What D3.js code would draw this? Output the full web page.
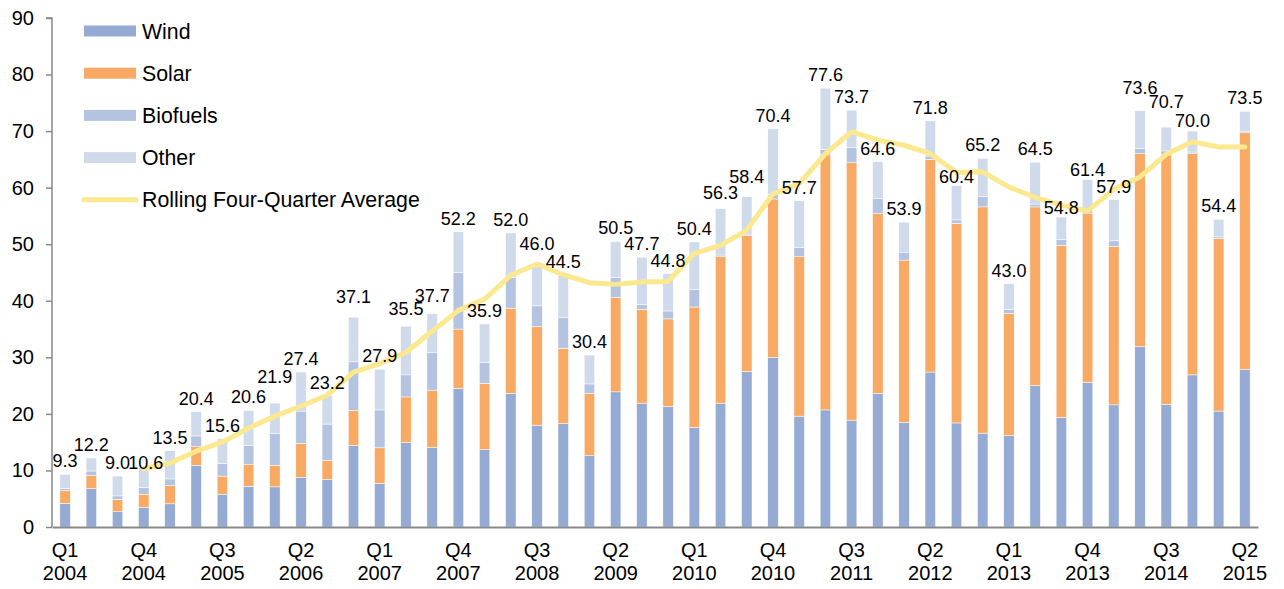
<!DOCTYPE html>
<html>
<head>
<meta charset="utf-8">
<script src="https://cdn.jsdelivr.net/npm/d3@7"></script>
<style>
  body { margin: 0; background: #fff; }
  svg { display: block; font-family: "Liberation Sans", Arial, sans-serif; }
</style>
</head>
<body>
<svg id="chart" width="1284" height="589"></svg>
<script>
// quarters Q1 2004 .. Q2 2015
const quarters = ['Q1 2004','Q2 2004','Q3 2004','Q4 2004','Q1 2005','Q2 2005','Q3 2005','Q4 2005',
  'Q1 2006','Q2 2006','Q3 2006','Q4 2006','Q1 2007','Q2 2007','Q3 2007','Q4 2007',
  'Q1 2008','Q2 2008','Q3 2008','Q4 2008','Q1 2009','Q2 2009','Q3 2009','Q4 2009',
  'Q1 2010','Q2 2010','Q3 2010','Q4 2010','Q1 2011','Q2 2011','Q3 2011','Q4 2011',
  'Q1 2012','Q2 2012','Q3 2012','Q4 2012','Q1 2013','Q2 2013','Q3 2013','Q4 2013',
  'Q1 2014','Q2 2014','Q3 2014','Q4 2014','Q1 2015','Q2 2015'];

const wind = [4.2, 6.8, 2.7, 3.5, 4.1, 10.9, 5.8, 7.2, 7.1, 8.8, 8.4, 14.4, 7.7, 14.9, 14.1, 24.5,
  13.7, 23.6, 18.0, 18.3, 12.6, 23.9, 21.9, 21.3, 17.6, 21.9, 27.5, 30.0, 19.6, 20.7, 18.9, 23.6,
  18.5, 27.4, 18.4, 16.6, 16.2, 25.0, 19.4, 25.6, 21.6, 31.9, 21.7, 26.9, 20.5, 27.9];
const solar = [2.2, 2.3, 2.2, 2.3, 3.2, 3.3, 3.2, 3.9, 3.8, 6.0, 3.4, 6.2, 6.3, 8.1, 10.1, 10.5,
  11.7, 15.1, 17.4, 13.3, 11.0, 16.7, 16.6, 15.5, 21.3, 25.9, 24.0, 28.0, 28.2, 45.1, 45.5, 31.8,
  28.7, 37.6, 35.3, 40.0, 21.6, 31.6, 30.4, 29.9, 28.0, 34.1, 44.1, 39.1, 30.5, 41.8];
const biofuels = [0.4, 0.8, 0.6, 1.2, 1.2, 1.9, 2.2, 3.3, 5.6, 5.7, 6.4, 8.6, 6.7, 3.9, 6.7, 10.0,
  3.7, 5.4, 3.7, 5.4, 1.7, 3.5, 0.8, 1.4, 3.1, 0.3, 0.3, 0.8, 1.6, 1.0, 2.7, 2.7,
  1.4, 0.6, 0.6, 1.8, 0.7, 0.5, 1.0, 0.4, 1.0, 0.9, 0.7, 0.3, 0.3, 0.3];
const other = [2.5, 2.3, 3.5, 3.6, 5.0, 4.3, 4.4, 6.2, 5.4, 6.9, 5.0, 7.9, 7.2, 8.6, 6.8, 7.2,
  6.8, 7.9, 6.9, 7.5, 5.1, 6.4, 8.4, 6.6, 8.4, 8.2, 6.6, 11.6, 8.3, 10.8, 6.6, 6.5,
  5.3, 6.2, 6.1, 6.8, 4.5, 7.4, 4.0, 5.5, 7.3, 6.7, 4.2, 3.7, 3.1, 3.5];
const totals = [9.3, 12.2, 9.0, 10.6, 13.5, 20.4, 15.6, 20.6, 21.9, 27.4, 23.2, 37.1, 27.9, 35.5, 37.7, 52.2,
  35.9, 52.0, 46.0, 44.5, 30.4, 50.5, 47.7, 44.8, 50.4, 56.3, 58.4, 70.4, 57.7, 77.6, 73.7, 64.6,
  53.9, 71.8, 60.4, 65.2, 43.0, 64.5, 54.8, 61.4, 57.9, 73.6, 70.7, 70.0, 54.4, 73.5];
const rollingAvg = [null, null, null, 10.3, 11.3, 13.4, 15.0, 17.5, 19.6, 21.4, 23.3, 27.4, 28.9, 30.9, 34.6, 38.3,
  40.3, 44.5, 46.5, 44.6, 43.2, 42.9, 43.3, 43.4, 48.4, 49.8, 52.5, 58.9, 60.7, 66.0, 69.9, 68.4,
  67.5, 66.0, 62.7, 62.8, 60.1, 58.3, 56.9, 55.9, 59.7, 61.9, 65.9, 68.1, 67.2, 67.2];
const yTicks = [0, 10, 20, 30, 40, 50, 60, 70, 80, 90];

const seriesNames = ['Wind', 'Solar', 'Biofuels', 'Other'];
const colors = { Wind: '#95abd3', Solar: '#f8a964', Biofuels: '#b3c3e0', Other: '#cfdaeb' };
const lineColor = '#fbe88f';

const svg = d3.select('#chart');
const margin = { left: 52, right: 26, top: 18, bottom: 62 };
const width = 1284, height = 589;

const rows = quarters.map((q, i) => ({ q, Wind: wind[i], Solar: solar[i], Biofuels: biofuels[i], Other: other[i] }));

const x = d3.scaleBand()
  .domain(quarters)
  .range([margin.left, width - margin.right])
  .paddingInner(0.6)
  .paddingOuter(0.3);

const y = d3.scaleLinear()
  .domain([0, 90])
  .range([height - margin.bottom, margin.top]);

const stack = d3.stack().keys(seriesNames)(rows);

svg.append('g')
  .selectAll('g')
  .data(stack)
  .enter()
  .append('g')
  .attr('fill', (d) => colors[d.key])
  .selectAll('rect')
  .data((d) => d)
  .enter()
  .append('rect')
  .attr('x', (d) => x(d.data.q))
  .attr('y', (d) => y(d[1]))
  .attr('width', x.bandwidth())
  .attr('height', (d) => y(d[0]) - y(d[1]))
  .attr('stroke', '#ffffff')
  .attr('stroke-width', 0.5);

// y axis
const yAxis = svg.append('g')
  .attr('transform', `translate(${margin.left},0)`)
  .call(d3.axisLeft(y).tickValues(yTicks).tickSize(6).tickPadding(12).tickFormat(d3.format('d')));
yAxis.selectAll('line').attr('stroke', '#898989').attr('stroke-width', 1.5);
yAxis.select('.domain').attr('stroke', '#898989').attr('stroke-width', 1.5).attr('d', `M-6,${y(90)}H0V${y(0)}`);
yAxis.selectAll('text').attr('font-size', 20).attr('fill', '#000').attr('font-family', '"Liberation Sans", Arial, sans-serif');

// x axis
const xAxis = svg.append('g')
  .attr('transform', `translate(0,${y(0)})`)
  .call(d3.axisBottom(x).tickSize(0).tickFormat(''));
xAxis.select('.domain').attr('stroke', '#898989').attr('stroke-width', 2);

const labelled = quarters.filter((q, i) => i % 3 === 0);
const xl = svg.append('g').selectAll('text')
  .data(labelled)
  .enter()
  .append('text')
  .attr('text-anchor', 'middle')
  .attr('font-size', 20)
  .attr('fill', '#000');
xl.append('tspan')
  .attr('x', (d) => x(d) + x.bandwidth() / 2)
  .attr('y', 557)
  .text((d) => d.split(' ')[0]);
xl.append('tspan')
  .attr('x', (d) => x(d) + x.bandwidth() / 2)
  .attr('y', 580)
  .text((d) => d.split(' ')[1]);

// rolling average line
const line = d3.line()
  .defined((d) => d != null)
  .x((d, i) => x(quarters[i]) + x.bandwidth() / 2)
  .y((d) => y(d));

svg.append('path')
  .datum(rollingAvg)
  .attr('d', line)
  .attr('fill', 'none')
  .attr('stroke', lineColor)
  .attr('stroke-width', 5)
  .attr('stroke-linejoin', 'round')
  .attr('stroke-linecap', 'round');

// total labels; a few were lifted by hand in the original to clear neighbours
const labelGap = 7;
const labelLift = { 3: -2, 8: 20, 11: 14, 13: 11, 14: 12, 18: 17, 25: 10, 26: 14, 34: 2, 38: 3, 39: 4, 41: 17, 42: 19, 43: 4 };
svg.append('g')
  .selectAll('text')
  .data(totals)
  .enter()
  .append('text')
  .attr('x', (d, i) => x(quarters[i]) + x.bandwidth() / 2 + (i === 3 ? 2 : 0))
  .attr('y', (d, i) => y(d) - (labelLift[i] != null ? labelLift[i] : labelGap))
  .attr('text-anchor', 'middle')
  .attr('font-size', 18)
  .attr('fill', '#000')
  .text((d) => d.toFixed(1));

// legend
const legend = svg.append('g').attr('transform', 'translate(84,0)');
const legendItems = seriesNames.concat(['Rolling Four-Quarter Average']);
legendItems.forEach((name, i) => {
  const cy = 31 + i * 42.2;
  if (colors[name]) {
    legend.append('rect')
      .attr('x', 0).attr('y', cy - 5.5)
      .attr('width', 52).attr('height', 11)
      .attr('fill', colors[name]);
  } else {
    legend.append('line')
      .attr('x1', 0).attr('x2', 52)
      .attr('y1', cy).attr('y2', cy)
      .attr('stroke', lineColor).attr('stroke-width', 5)
      .attr('stroke-linecap', 'round');
  }
  legend.append('text')
    .attr('x', 58).attr('y', cy)
    .attr('dy', '0.36em')
    .attr('font-size', 21.3)
    .attr('fill', '#000')
    .text(name);
});
</script>
</body>
</html>
